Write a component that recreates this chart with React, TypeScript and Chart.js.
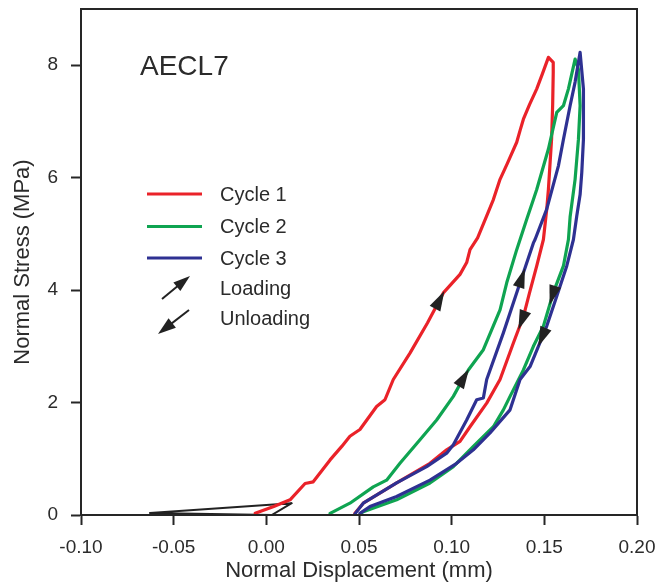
import React, { useEffect, useRef } from 'react';
import { Chart, registerables } from 'chart.js';

Chart.register(...registerables);

// ---- Data ----
const seriesNames = ['Cycle 1', 'Cycle 2', 'Cycle 3'];
const seriesColors = ['#ea2229', '#0fa451', '#2e3192'];

// Cycle 1 (loading then unloading)
const cycle1X = [
  -0.006, 0.004, 0.0128, 0.0209, 0.0253, 0.0344, 0.0407, 0.0451, 0.0505, 0.0595, 0.064, 0.0685, 0.0775, 0.087,
  0.0955, 0.1045, 0.1081, 0.1099, 0.114, 0.1189, 0.1225, 0.1261, 0.13, 0.1351, 0.137, 0.1387, 0.142, 0.1459, 0.149,
  0.1522,
  0.1548, 0.1548, 0.1545, 0.1539, 0.1522, 0.1513, 0.1495, 0.1459, 0.142, 0.1387, 0.1333, 0.1261, 0.1189, 0.1099,
  0.1045, 0.0973, 0.0883, 0.0703, 0.0523, 0.0478,
];
const cycle1Y = [
  0.03, 0.15, 0.27, 0.56, 0.59, 0.98, 1.22, 1.4, 1.52, 1.93, 2.05, 2.41, 2.88, 3.42,
  3.95, 4.28, 4.49, 4.72, 4.93, 5.32, 5.61, 5.97, 6.25, 6.63, 6.85, 7.04, 7.3, 7.58, 7.85,
  8.14,
  8.05, 7.87, 7.3, 6.68, 5.79, 5.44, 4.9, 4.43, 3.95, 3.53, 3.06, 2.41, 1.99, 1.57,
  1.31, 1.16, 0.92, 0.57, 0.21, 0.03,
];

// Cycle 2
const cycle2X = [
  0.0344, 0.0451, 0.0577, 0.0649, 0.0721, 0.0829, 0.0919, 0.1009, 0.1054, 0.109, 0.1171, 0.1261, 0.1297, 0.1351,
  0.1405, 0.1441, 0.1459, 0.1522, 0.1567, 0.1603, 0.163, 0.1666,
  0.1684, 0.1693, 0.1684, 0.1666, 0.1639, 0.163, 0.1603, 0.1548, 0.1495, 0.1441, 0.1387, 0.1315, 0.1279, 0.1225,
  0.1117, 0.1009, 0.0883, 0.0703, 0.0523, 0.0505,
];
const cycle2Y = [
  0.03, 0.21, 0.5, 0.62, 0.92, 1.34, 1.69, 2.11, 2.38, 2.58, 2.94, 3.65, 4.13, 4.72,
  5.26, 5.61, 5.79, 6.51, 7.16, 7.28, 7.58, 8.11,
  7.93, 7.28, 6.68, 5.97, 5.3, 4.9, 4.43, 3.95, 3.36, 3.0, 2.58, 2.11, 1.87, 1.57,
  1.22, 0.86, 0.57, 0.27, 0.06, 0.01,
];

// Cycle 3
const cycle3X = [
  0.0478, 0.0523, 0.0703, 0.0865, 0.0973, 0.1009, 0.1081, 0.1135, 0.1171, 0.1189, 0.1279, 0.1369, 0.1441, 0.145,
  0.1513, 0.1576, 0.1603, 0.1639, 0.1666, 0.1693,
  0.1711, 0.1711, 0.1702, 0.1693, 0.1675, 0.1657, 0.1621, 0.1567, 0.1513, 0.1423, 0.1369, 0.1315, 0.1207, 0.1117,
  0.1027, 0.0883, 0.0703, 0.0559, 0.0505,
];
const cycle3Y = [
  0.02, 0.21, 0.57, 0.86, 1.1, 1.25, 1.69, 2.05, 2.08, 2.41, 3.24, 4.13, 4.84, 4.9,
  5.44, 6.21, 6.68, 7.28, 7.7, 8.23,
  7.58, 6.68, 6.09, 5.7, 5.32, 4.9, 4.43, 3.89, 3.36, 2.64, 2.41, 1.87, 1.46, 1.16,
  0.92, 0.62, 0.33, 0.15, 0.03,
];

// Initial seating (black)
const seatX = [0.0029, 0.0137, -0.0628, 0.0029];
const seatY = [0.0, 0.21, 0.035, 0.0];

// Direction arrows on the curves (cycle index 0..2, position)
const arrowSeries = [0, 1, 2, 0, 1, 2];
const arrowX = [0.094, 0.1063, 0.138, 0.1387, 0.1545, 0.1495];
const arrowY = [3.82, 2.45, 4.22, 3.45, 3.9, 3.15];

// Axis ticks
const xMin = -0.1;
const xMax = 0.2;
const xStep = 0.05;
const yMin = 0;
const yMax = 9;
const yStep = 2;

const panelLabel = 'AECL7';
const loadingLabel = 'Loading';
const unloadingLabel = 'Unloading';

const FONT = "'Liberation Sans', Arial, sans-serif";
const TEXT = '#2b2b2b';
const AXIS = '#262626';

function zip(xs: number[], ys: number[]) {
  return xs.map((x, i) => ({ x, y: ys[i] }));
}

function drawHead(ctx: CanvasRenderingContext2D, tx: number, ty: number, dx: number, dy: number, len: number, w: number) {
  const bx = tx - dx * len;
  const by = ty - dy * len;
  const nx = -dy;
  const ny = dx;
  ctx.beginPath();
  ctx.moveTo(tx, ty);
  ctx.lineTo(bx + nx * w / 2, by + ny * w / 2);
  ctx.lineTo(bx - nx * w / 2, by - ny * w / 2);
  ctx.closePath();
  ctx.fill();
}

const arrowPlugin = {
  id: 'curveArrows',
  afterDatasetsDraw(chart: any) {
    const { ctx } = chart;
    const xs = chart.scales.x;
    const ys = chart.scales.y;
    ctx.save();
    ctx.fillStyle = '#222';
    arrowSeries.forEach((si, k) => {
      const pts = chart.data.datasets[si].data as { x: number; y: number }[];
      const px = xs.getPixelForValue(arrowX[k]);
      const py = ys.getPixelForValue(arrowY[k]);
      let best = Infinity;
      let cx = px, cy = py, dx = 0, dy = -1;
      for (let i = 0; i < pts.length - 1; i++) {
        const x0 = xs.getPixelForValue(pts[i].x), y0 = ys.getPixelForValue(pts[i].y);
        const x1 = xs.getPixelForValue(pts[i + 1].x), y1 = ys.getPixelForValue(pts[i + 1].y);
        const vx = x1 - x0, vy = y1 - y0;
        const l2 = vx * vx + vy * vy;
        if (l2 === 0) continue;
        let t = ((px - x0) * vx + (py - y0) * vy) / l2;
        t = Math.max(0, Math.min(1, t));
        const qx = x0 + t * vx, qy = y0 + t * vy;
        const d = (qx - px) ** 2 + (qy - py) ** 2;
        if (d < best) {
          best = d;
          cx = qx; cy = qy;
          const l = Math.sqrt(l2);
          dx = vx / l; dy = vy / l;
        }
      }
      const L = 20;
      drawHead(ctx, cx + dx * L / 2, cy + dy * L / 2, dx, dy, L, 12);
    });
    ctx.restore();
  },
};

const decorPlugin = {
  id: 'decor',
  afterDraw(chart: any) {
    const { ctx, chartArea } = chart;
    const { left, top, right, bottom } = chartArea;
    ctx.save();
    // frame
    ctx.strokeStyle = AXIS;
    ctx.lineWidth = 2;
    ctx.strokeRect(left, top, right - left, bottom - top);

    // panel label
    ctx.fillStyle = TEXT;
    ctx.font = `28px ${FONT}`;
    ctx.textAlign = 'left';
    ctx.textBaseline = 'middle';
    ctx.fillText(panelLabel, left + 59, top + 58);

    // legend
    const lx0 = left + 66;
    const lx1 = left + 121;
    const tx = left + 139;
    const rowY = [top + 185, top + 217.5, top + 249, top + 279, top + 309];
    ctx.font = `20px ${FONT}`;
    seriesNames.forEach((name, i) => {
      ctx.strokeStyle = seriesColors[i];
      ctx.lineWidth = 3;
      ctx.beginPath();
      ctx.moveTo(lx0, rowY[i]);
      ctx.lineTo(lx1, rowY[i]);
      ctx.stroke();
      ctx.fillStyle = TEXT;
      ctx.fillText(name, tx, rowY[i] + 1);
    });
    // loading arrow
    ctx.strokeStyle = '#222';
    ctx.fillStyle = '#222';
    ctx.lineWidth = 2;
    {
      const ax0 = left + 81, ay0 = rowY[3] + 11;
      const ax1 = left + 109, ay1 = rowY[3] - 12;
      const vx = ax1 - ax0, vy = ay1 - ay0;
      const l = Math.hypot(vx, vy);
      const dx = vx / l, dy = vy / l;
      ctx.beginPath();
      ctx.moveTo(ax0, ay0);
      ctx.lineTo(ax1 - dx * 10, ay1 - dy * 10);
      ctx.stroke();
      drawHead(ctx, ax1, ay1, dx, dy, 17, 11);
    }
    {
      const ax0 = left + 108, ay0 = rowY[4] - 8;
      const ax1 = left + 77, ay1 = rowY[4] + 16;
      const vx = ax1 - ax0, vy = ay1 - ay0;
      const l = Math.hypot(vx, vy);
      const dx = vx / l, dy = vy / l;
      ctx.beginPath();
      ctx.moveTo(ax0, ay0);
      ctx.lineTo(ax1 - dx * 10, ay1 - dy * 10);
      ctx.stroke();
      drawHead(ctx, ax1, ay1, dx, dy, 18, 12);
    }
    ctx.fillStyle = TEXT;
    ctx.fillText(loadingLabel, tx, rowY[3] + 1);
    ctx.fillText(unloadingLabel, tx, rowY[4] + 1);
    ctx.restore();
  },
};

export default function App() {
  const ref = useRef<HTMLCanvasElement>(null);
  useEffect(() => {
    document.body.style.margin = '0';
    const canvas = ref.current;
    if (!canvas) return;
    const lineDs = (label: string, xs: number[], ys: number[], color: string, order: number, width = 3.2) => ({
      label,
      data: zip(xs, ys),
      borderColor: color,
      backgroundColor: color,
      borderWidth: width,
      pointRadius: 0,
      tension: 0,
      fill: false,
      showLine: true,
      order,
      borderJoinStyle: 'round' as const,
      borderCapStyle: 'round' as const,
    });
    const chart = new Chart(canvas, {
      type: 'scatter',
      data: {
        datasets: [
          lineDs(seriesNames[0], cycle1X, cycle1Y, seriesColors[0], 2),
          lineDs(seriesNames[1], cycle2X, cycle2Y, seriesColors[1], 1),
          lineDs(seriesNames[2], cycle3X, cycle3Y, seriesColors[2], 0),
          lineDs('Seating', seatX, seatY, '#222', 3, 2),
        ],
      },
      options: {
        responsive: false,
        animation: false,
        devicePixelRatio: 1,
        layout: { padding: { top: 9, right: 20, left: 0, bottom: 0 } },
        plugins: { legend: { display: false }, tooltip: { enabled: false } },
        scales: {
          x: {
            type: 'linear',
            min: xMin,
            max: xMax,
            afterFit: (s: any) => {
              s.height = 70;
              s.paddingLeft = 0;
              s.paddingRight = 0;
            },
            ticks: {
              stepSize: xStep,
              includeBounds: false,
              color: TEXT,
              font: { family: FONT, size: 19 },
              padding: 11,
              maxRotation: 0,
              callback: (v: any) => {
                const n = Math.round(Number(v) * 100) / 100;
                return (Math.abs(n) < 1e-9 ? 0 : n).toFixed(2);
              },
            },
            grid: {
              drawOnChartArea: false,
              drawTicks: true,
              tickLength: 10,
              tickColor: AXIS,
              tickWidth: 2,
              color: AXIS,
            },
            border: { display: true, color: AXIS, width: 2 },
            title: {
              display: true,
              text: 'Normal Displacement (mm)',
              color: TEXT,
              font: { family: FONT, size: 22 },
              padding: { top: 0, bottom: 1 },
            },
          },
          y: {
            type: 'linear',
            min: yMin,
            max: yMax,
            afterFit: (s: any) => {
              s.width = 81;
              s.paddingTop = 0;
              s.paddingBottom = 0;
            },
            ticks: {
              stepSize: yStep,
              includeBounds: false,
              color: TEXT,
              font: { family: FONT, size: 19 },
              padding: 13,
            },
            grid: {
              drawOnChartArea: false,
              drawTicks: true,
              tickLength: 10,
              tickColor: AXIS,
              tickWidth: 2,
              color: AXIS,
            },
            border: { display: true, color: AXIS, width: 2 },
            title: {
              display: true,
              text: 'Normal Stress (MPa)',
              color: TEXT,
              font: { family: FONT, size: 22 },
              padding: { top: 10, bottom: 0 },
            },
          },
        },
      },
      plugins: [arrowPlugin, decorPlugin],
    } as any);
    return () => chart.destroy();
  }, []);
  return (
    <div style={{ position: 'absolute', left: 0, top: 0, width: 657, height: 585, background: '#fff' }}>
      <canvas ref={ref} width={657} height={585} style={{ width: 657, height: 585, display: 'block' }} />
    </div>
  );
}
